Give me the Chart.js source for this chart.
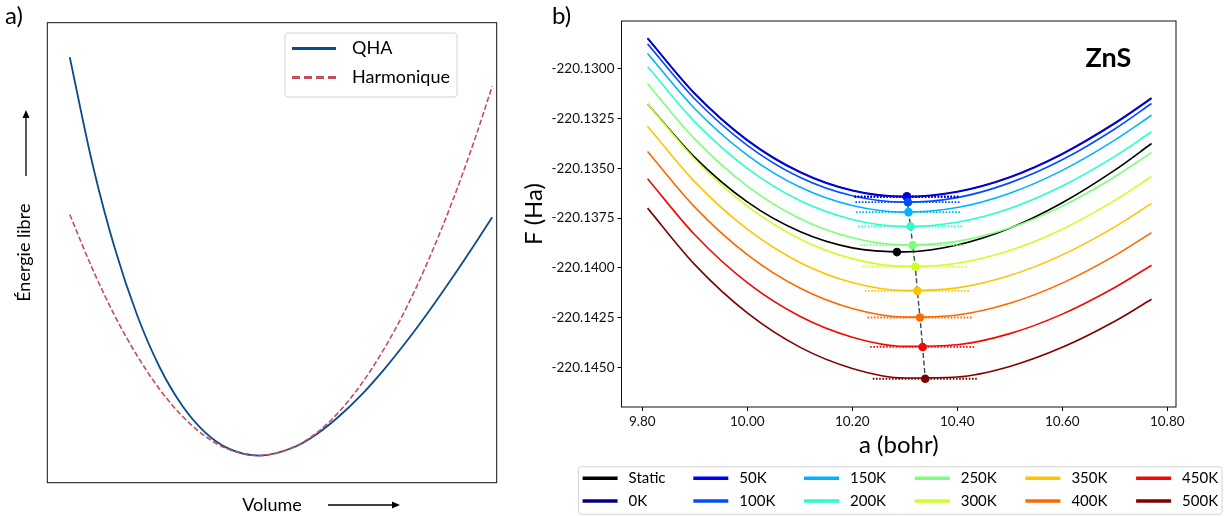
<!DOCTYPE html>
<html>
<head>
<meta charset="utf-8">
<script src="https://cdn.jsdelivr.net/npm/chart.js@4.4.1/dist/chart.umd.min.js"></script>
<style>
  body { margin: 0; background: #fff; }
  #wrap { position: relative; width: 1225px; height: 516px; }
  canvas { position: absolute; top: 0; }
</style>
</head>
<body>
<div id="wrap">
  <canvas id="panelA" width="520" height="516" style="left:0"></canvas>
  <canvas id="panelB" width="705" height="516" style="left:520px"></canvas>
</div>
<script>
// ---- panel a: schematic free energy vs volume (arbitrary units) ----
const volumeA = [5, 10, 15, 20, 25, 30, 35, 40, 47, 55, 60, 65, 70, 75, 80, 85, 90, 95, 99];
const qhaA = [92.5, 69.5, 51.0, 36.4, 25.1, 16.8, 11.05, 7.57, 5.9, 7.77, 10.6, 14.5, 19.2, 24.7, 30.8, 37.4, 44.4, 51.7, 57.7];
const harmA = [58.3, 46.6, 36.3, 27.6, 20.3, 14.5, 10.2, 7.4, 5.9, 7.8, 10.9, 15.5, 21.6, 29.2, 38.2, 48.8, 60.8, 74.3, 86.2];

// ---- panel b: ZnS free energy F(a) ----
const latticeA = [9.81, 9.90, 10.00, 10.10, 10.20, 10.30, 10.40, 10.50, 10.60, 10.70, 10.77];
const fStatic = [-220.13176, -220.13445, -220.13669, -220.13818, -220.13900, -220.13920, -220.13885, -220.13801, -220.13673, -220.13509, -220.13375];
const f0K   = [-220.12844, -220.13123, -220.13357, -220.13517, -220.13610, -220.13641, -220.13616, -220.13543, -220.13426, -220.13272, -220.13146];
const f50K  = [-220.12847, -220.13126, -220.13360, -220.13520, -220.13613, -220.13644, -220.13619, -220.13546, -220.13429, -220.13275, -220.13149];
const f100K = [-220.12874, -220.13151, -220.13384, -220.13545, -220.13638, -220.13670, -220.13647, -220.13573, -220.13457, -220.13302, -220.13174];
const f150K = [-220.12922, -220.13200, -220.13433, -220.13594, -220.13687, -220.13720, -220.13697, -220.13625, -220.13510, -220.13358, -220.13233];
const f200K = [-220.12988, -220.13266, -220.13500, -220.13662, -220.13757, -220.13792, -220.13771, -220.13702, -220.13589, -220.13440, -220.13316];
const f250K = [-220.13075, -220.13353, -220.13589, -220.13752, -220.13849, -220.13885, -220.13867, -220.13800, -220.13690, -220.13542, -220.13420];
const f300K = [-220.13176, -220.13454, -220.13690, -220.13855, -220.13954, -220.13993, -220.13977, -220.13913, -220.13806, -220.13661, -220.13541];
const f350K = [-220.13288, -220.13568, -220.13806, -220.13973, -220.14074, -220.14114, -220.14101, -220.14039, -220.13935, -220.13794, -220.13676];
const f400K = [-220.13415, -220.13695, -220.13934, -220.14102, -220.14205, -220.14248, -220.14237, -220.14178, -220.14077, -220.13939, -220.13823];
const f450K = [-220.13552, -220.13834, -220.14075, -220.14244, -220.14349, -220.14395, -220.14387, -220.14331, -220.14233, -220.14099, -220.13987];
const f500K = [-220.13700, -220.13984, -220.14227, -220.14399, -220.14506, -220.14554, -220.14549, -220.14496, -220.14400, -220.14269, -220.14158];

const tempLabels = ['0K', '50K', '100K', '150K', '200K', '250K', '300K', '350K', '400K', '450K', '500K'];
const tempColors = ['#000080', '#0000f1', '#004dff', '#00b3ff', '#29ffce', '#7dff7a', '#ceff29', '#ffc400', '#ff6800', '#f30900', '#800000'];
const tempCurves = [f0K, f50K, f100K, f150K, f200K, f250K, f300K, f350K, f400K, f450K, f500K];

// equilibrium lattice constant and free energy at each temperature
const aMinT = [10.304, 10.304, 10.306, 10.307, 10.311, 10.315, 10.320, 10.324, 10.329, 10.334, 10.339];
const fMinT = [-220.13641, -220.13644, -220.13670, -220.13720, -220.13792, -220.13886, -220.13994, -220.14116, -220.14250, -220.14398, -220.14558];
const aMinStatic = [10.285];
const fMinStatic = [-220.13921];
const minSpan = 0.1;

const aTicks = [9.8, 10.0, 10.2, 10.4, 10.6, 10.8];
const fTicks = [-220.1300, -220.1325, -220.1350, -220.1375, -220.1400, -220.1425, -220.1450];

Chart.defaults.font.family = 'Lato, sans-serif';
Chart.defaults.color = '#000';

function toPoints(xs, ys) {
    return xs.map((x, i) => ({ x: x, y: ys[i] }));
}

function drawArrow(ctx, x1, y1, x2, y2) {
    const ang = Math.atan2(y2 - y1, x2 - x1);
    const head = 8, half = 3.5;
    const bx = x2 - Math.cos(ang) * head, by = y2 - Math.sin(ang) * head;
    ctx.beginPath();
    ctx.moveTo(x1, y1);
    ctx.lineTo(bx, by);
    ctx.stroke();
    ctx.beginPath();
    ctx.moveTo(x2, y2);
    ctx.lineTo(bx - Math.sin(ang) * half, by + Math.cos(ang) * half);
    ctx.lineTo(bx + Math.sin(ang) * half, by - Math.cos(ang) * half);
    ctx.closePath();
    ctx.fill();
}

function drawLegend(ctx, items, box) {
    ctx.save();
    ctx.beginPath();
    ctx.roundRect(box.left, box.top, box.width, box.height, 3);
    ctx.fillStyle = 'rgba(255,255,255,0.85)';
    ctx.fill();
    ctx.strokeStyle = '#d4d4d4';
    ctx.lineWidth = 1;
    ctx.stroke();
    ctx.font = box.font;
    ctx.textBaseline = 'middle';
    items.forEach((it, i) => {
        const col = Math.floor(i / box.rows);
        const row = i % box.rows;
        const x = box.x0 + col * box.colW;
        const y = box.y0 + row * box.rowH;
        ctx.strokeStyle = it.borderColor;
        ctx.lineWidth = box.lineWidth;
        ctx.setLineDash(it.legendDash || []);
        ctx.beginPath();
        ctx.moveTo(x, y);
        ctx.lineTo(x + box.lineLen, y);
        ctx.stroke();
        ctx.setLineDash([]);
        ctx.fillStyle = '#000';
        ctx.fillText(it.label, x + box.textDx, y);
    });
    ctx.restore();
}

function drawFrame(ctx, ca) {
    ctx.save();
    ctx.strokeStyle = '#111';
    ctx.lineWidth = 1;
    ctx.strokeRect(ca.left, ca.top, ca.right - ca.left, ca.bottom - ca.top);
    ctx.restore();
}

const panelADecor = {
    id: 'panelADecor',
    afterDraw(chart) {
        const ctx = chart.ctx;
        drawFrame(ctx, chart.chartArea);
        ctx.save();
        ctx.fillStyle = '#000';
        ctx.strokeStyle = '#000';
        ctx.lineWidth = 1.3;
        ctx.font = '24px Lato';
        ctx.textBaseline = 'alphabetic';
        ctx.fillText('a)', 5, 23.5);
        drawArrow(ctx, 26, 176, 26, 110);
        drawArrow(ctx, 328, 505, 400, 505);
        ctx.restore();
        drawLegend(ctx, chart.data.datasets.filter(d => d.inLegend), {
            left: 285, top: 33, width: 172, height: 64, rows: 2,
            x0: 292, y0: 48.5, colW: 0, rowH: 29, lineLen: 44, textDx: 60,
            lineWidth: 3, font: '18px Lato'
        });
    }
};

const panelBDecor = {
    id: 'panelBDecor',
    afterDraw(chart) {
        const ctx = chart.ctx;
        drawFrame(ctx, chart.chartArea);
        ctx.save();
        ctx.fillStyle = '#000';
        ctx.font = '24px Lato';
        ctx.textBaseline = 'alphabetic';
        ctx.fillText('b)', 32, 23.5);
        ctx.font = 'bold 27px Lato';
        ctx.textAlign = 'center';
        ctx.textBaseline = 'middle';
        ctx.fillText('ZnS', 588.5, 58);
        ctx.restore();
        drawLegend(ctx, chart.data.datasets.filter(d => d.inLegend), {
            left: 58.4, top: 466.7, width: 643.6, height: 47.6, rows: 2,
            x0: 62.6, y0: 478.3, colW: 110.7, rowH: 22.7, lineLen: 35, textDx: 46,
            lineWidth: 3.5, font: '15px Lato'
        });
    }
};

// panel a
new Chart(document.getElementById('panelA'), {
    type: 'line',
    data: {
        datasets: [{
            label: 'QHA',
            data: toPoints(volumeA, qhaA),
            borderColor: '#0b4a8d',
            borderWidth: 1.8,
            inLegend: true,
            order: 1
        },
        {
            label: 'Harmonique',
            data: toPoints(volumeA, harmA),
            borderColor: '#c44e5c',
            borderWidth: 1.6,
            borderDash: [5.5, 2.5],
            legendDash: [8, 4],
            inLegend: true,
            order: 0
        }]
    },
    options: {
        responsive: false,
        animation: false,
        devicePixelRatio: 1,
        events: [],
        layout: { padding: { left: 13.2, top: 22.7, right: 23.3, bottom: 0 } },
        elements: {
            point: { radius: 0 },
            line: { cubicInterpolationMode: 'monotone', fill: false }
        },
        scales: {
            x: {
                type: 'linear', min: 0, max: 100,
                ticks: { display: false },
                grid: { display: false },
                border: { display: false },
                title: { display: true, text: 'Volume', font: { size: 18 }, padding: 0 },
                afterFit: s => { s.height = 33.3; }
            },
            y: {
                type: 'linear', min: 0, max: 100,
                ticks: { display: false },
                grid: { display: false },
                border: { display: false },
                title: { display: true, text: 'Énergie libre', font: { size: 18 }, padding: 0 },
                afterFit: s => { s.width = 34.1; }
            }
        },
        plugins: { legend: { display: false }, tooltip: { enabled: false } }
    },
    plugins: [panelADecor]
});

// panel b
const datasetsB = [{
    label: 'Static',
    data: toPoints(latticeA, fStatic),
    borderColor: '#000',
    inLegend: true,
    order: 100
}];

tempLabels.forEach((t, i) => {
    datasetsB.push({
        label: t,
        data: toPoints(latticeA, tempCurves[i]),
        borderColor: tempColors[i],
        inLegend: true,
        order: 99 - i
    });
});

// dotted guide at each minimum
tempLabels.forEach((t, i) => {
    datasetsB.push({
        label: t + ' min',
        data: [{ x: aMinT[i] - minSpan, y: fMinT[i] }, { x: aMinT[i] + minSpan, y: fMinT[i] }],
        borderColor: tempColors[i],
        borderWidth: 1.8,
        borderDash: [1.6, 1.6],
        order: 80 - i
    });
});

// path of the minima with temperature
datasetsB.push({
    label: 'minima',
    data: toPoints(aMinT, fMinT),
    borderColor: '#2f4f4f',
    borderWidth: 1.4,
    borderDash: [5, 2.5],
    cubicInterpolationMode: 'default',
    tension: 0,
    pointRadius: 4.3,
    pointBackgroundColor: tempColors,
    pointBorderWidth: 0,
    order: 10
});

datasetsB.push({
    label: 'static min',
    data: toPoints(aMinStatic, fMinStatic),
    showLine: false,
    pointRadius: 4.3,
    pointBackgroundColor: '#000',
    pointBorderWidth: 0,
    order: 5
});

const tickFont = { size: 13.5 };

new Chart(document.getElementById('panelB'), {
    type: 'line',
    data: { datasets: datasetsB },
    options: {
        responsive: false,
        animation: false,
        devicePixelRatio: 1,
        events: [],
        layout: { padding: { left: 0, top: 21, right: 49, bottom: 56.6 } },
        elements: {
            point: { radius: 0 },
            line: { borderWidth: 1.6, cubicInterpolationMode: 'monotone', fill: false }
        },
        scales: {
            x: {
                type: 'linear', min: 9.7604, max: 10.8166,
                afterBuildTicks: s => { s.ticks = aTicks.map(v => ({ value: v })); },
                ticks: { callback: v => v.toFixed(2), font: tickFont, color: '#111', padding: 3, maxRotation: 0, autoSkip: false },
                grid: { drawOnChartArea: false, drawTicks: true, tickLength: 4, color: '#000' },
                border: { display: false },
                title: { display: true, text: 'a (bohr)', font: { size: 24 }, padding: 0 },
                afterFit: s => { s.height = 52.4; }
            },
            y: {
                type: 'linear', min: -220.14700, max: -220.12759,
                afterBuildTicks: s => { s.ticks = fTicks.map(v => ({ value: v })); },
                ticks: { callback: v => v.toFixed(4), font: tickFont, color: '#111', padding: 3, autoSkip: false },
                grid: { drawOnChartArea: false, drawTicks: true, tickLength: 4, color: '#000' },
                border: { display: false },
                title: { display: true, text: 'F (Ha)', font: { size: 24 }, padding: 0 },
                afterFit: s => { s.width = 101.5; }
            }
        },
        plugins: { legend: { display: false }, tooltip: { enabled: false } }
    },
    plugins: [panelBDecor]
});
</script>
</body>
</html>
